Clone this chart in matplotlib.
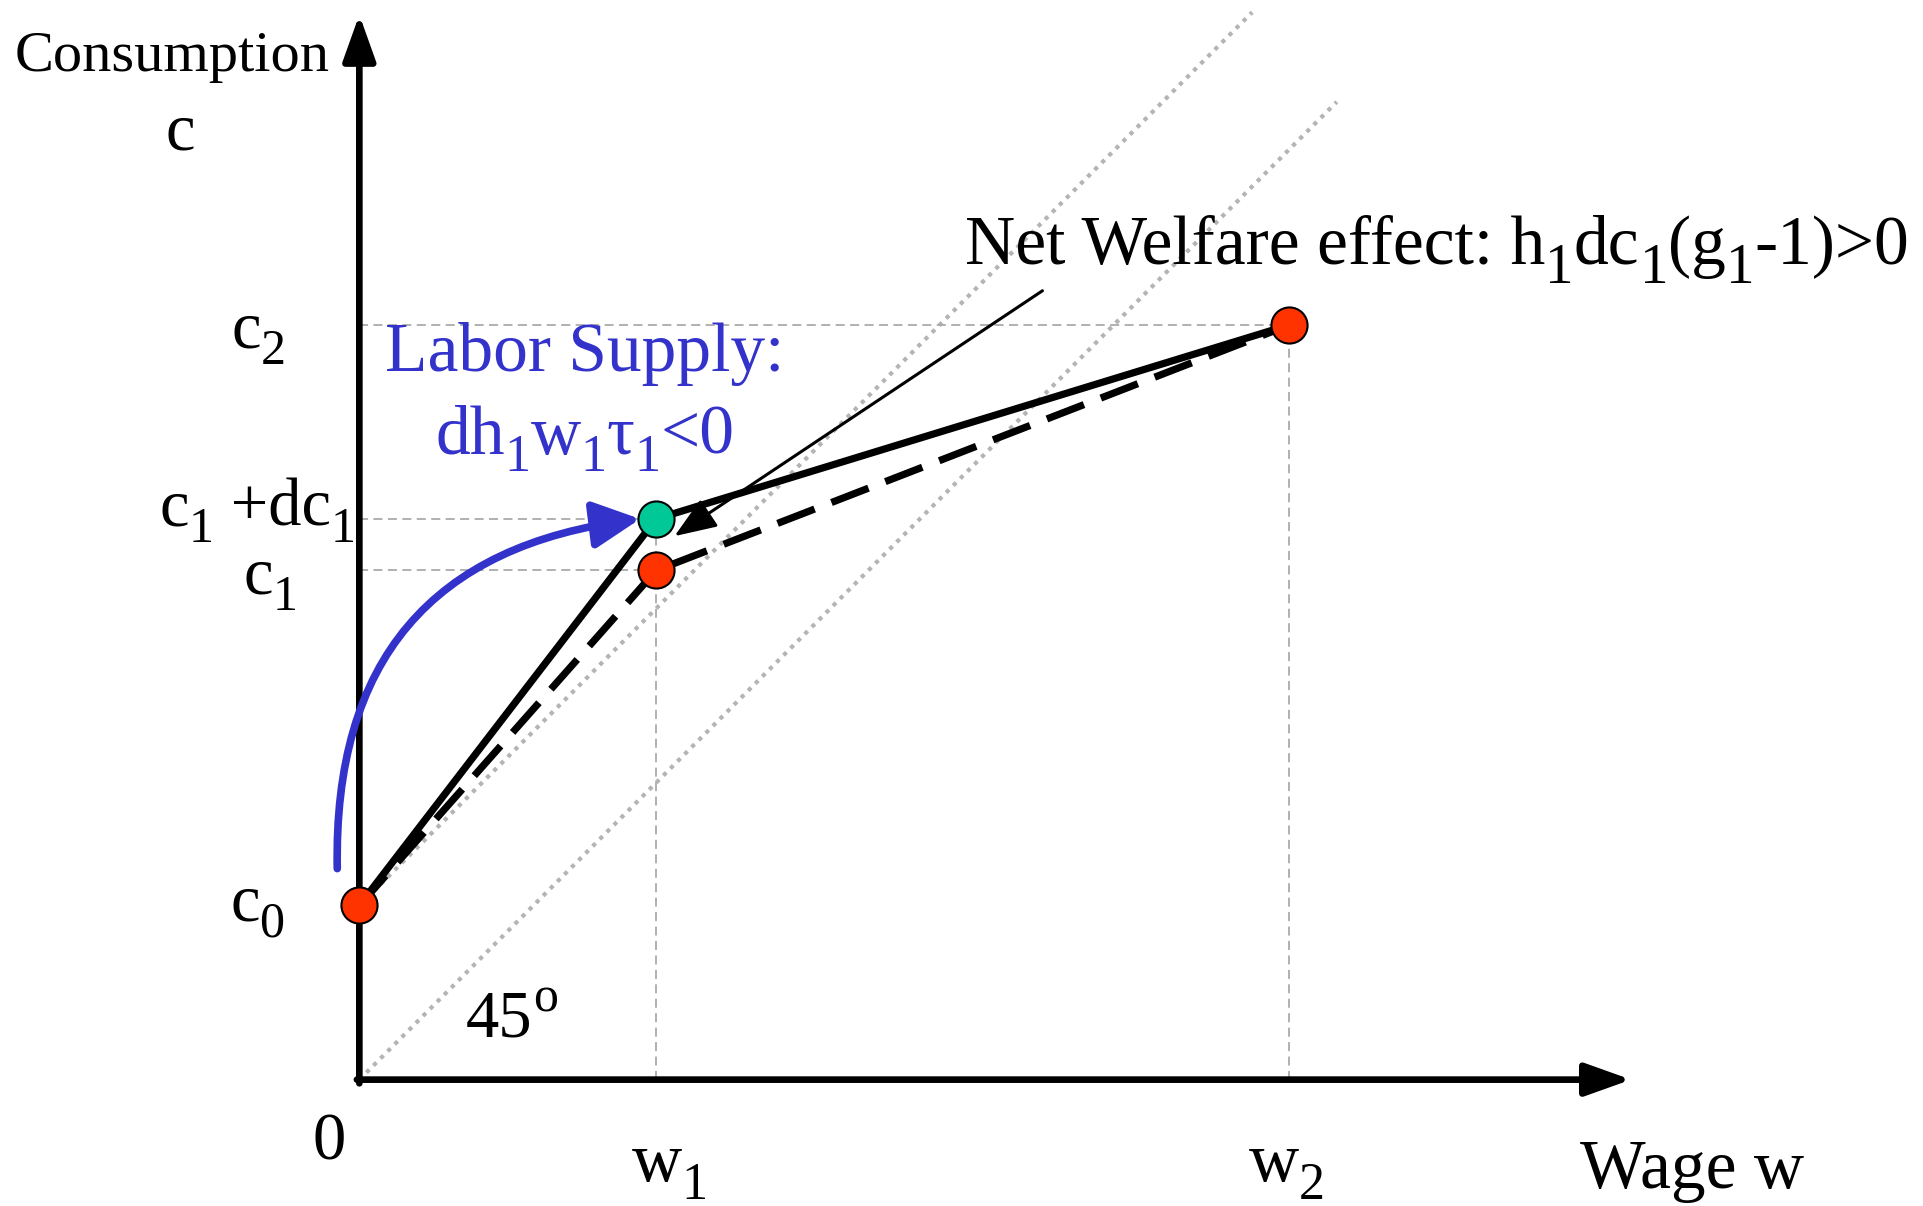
import numpy as np
import matplotlib
matplotlib.use("Agg")
import matplotlib.pyplot as plt
import matplotlib.transforms as mtransforms
from matplotlib.patches import FancyArrowPatch

plt.rcParams['font.family'] = ['Liberation Serif', 'DejaVu Serif']

# diagram values (wage on x, consumption on y)
w_pts = [0, 242, 758]          # 0, w1, w2
c_old = [142, 415, 615]        # c0, c1, c2 (dashed schedule)
c_new = [142, 457, 615]        # c0, c1+dc1, c2 (solid schedule)

fig = plt.figure(figsize=(19.23, 12.06), dpi=100)
ax = fig.add_axes([0, 0, 1, 1])
ax.set_xlim(-293, 1275)
ax.set_ylim(-103, 880)
ax.axis('off')
renderer = fig.canvas.get_renderer()


def rich(x, y, parts, size, ha='left', color='black', sub_scale=0.75, sub_drop=0.25):
    # parts: list of (string, kind) with kind 0 normal, 1 subscript, 2 superscript
    items = []
    for s, kind in parts:
        fsz = size if kind == 0 else size * sub_scale
        t = ax.text(x, y, s, fontsize=fsz, color=color, va='baseline', ha='left')
        items.append((t, t.get_window_extent(renderer).width, kind))
    total = sum(w for _, w, _ in items)
    off = {'left': 0, 'center': -total / 2, 'right': -total}[ha]
    pt = fig.dpi / 72
    for t, w, kind in items:
        dy = 0
        if kind == 1:
            dy = -sub_drop * size * pt
        elif kind == 2:
            dy = 0.38 * size * pt
        t.set_transform(mtransforms.offset_copy(ax.transData, fig=fig, x=off, y=dy, units='dots'))
        off += w


grey = '#aaaaaa'

# 45 degree dotted lines
ww = np.array([0, 728])
ax.plot(ww, c_old[0] + ww, ls=(0, (1, 1.4)), color='#b4b4b4', lw=3, zorder=1)
ww = np.array([0, 797])
ax.plot(ww, ww, ls=(0, (1, 1.4)), color='#b4b4b4', lw=3, zorder=1)

# guide lines
dash = (0, (5, 3))
ax.plot([0, w_pts[2]], [c_old[2], c_old[2]], color=grey, lw=1.3, ls=dash, zorder=1)
ax.plot([0, w_pts[1]], [c_new[1], c_new[1]], color=grey, lw=1.3, ls=dash, zorder=1)
ax.plot([0, w_pts[1]], [c_old[1], c_old[1]], color=grey, lw=1.3, ls=dash, zorder=1)
ax.plot([w_pts[1], w_pts[1]], [0, c_new[1]], color=grey, lw=1.3, ls=dash, zorder=1)
ax.plot([w_pts[2], w_pts[2]], [0, c_old[2]], color=grey, lw=1.3, ls=dash, zorder=1)

# axes with arrows
ax.annotate('', xy=(0, 868), xytext=(0, -3),
            arrowprops=dict(arrowstyle='-|>,head_length=1.4,head_width=0.5', lw=4.8, color='black',
                            shrinkA=0, shrinkB=0, mutation_scale=20))
ax.annotate('', xy=(1037, 0), xytext=(-2, 0),
            arrowprops=dict(arrowstyle='-|>,head_length=1.4,head_width=0.5', lw=4.8, color='black',
                            shrinkA=0, shrinkB=0, mutation_scale=20))

# budget schedules
ax.plot(w_pts, c_new, color='black', lw=5.2, solid_capstyle='butt', zorder=3)
ax.plot(w_pts, c_old, color='black', lw=5.2, ls=(0, (5.5, 2.5)), zorder=3)

# points
ax.plot(w_pts, c_old, 'o', ls='none', ms=26,
        mfc='#ff3300', mec='black', mew=1.5, zorder=5)
ax.plot([w_pts[1]], [c_new[1]], 'o', ms=26, mfc='#00c896', mec='black', mew=1.5, zorder=5)

# thin welfare arrow
ax.annotate('', xy=(257, 443), xytext=(557, 643),
            arrowprops=dict(arrowstyle='-|>,head_length=1.3,head_width=0.5', lw=2.2, color='black',
                            shrinkA=0, shrinkB=0, mutation_scale=20), zorder=4)

# blue labor supply arrow
arr = FancyArrowPatch(posA=(-18, 172), posB=(229, 457), connectionstyle='arc3,rad=-0.45',
                      arrowstyle='-|>,head_length=1.3,head_width=0.65', mutation_scale=22,
                      lw=5.5, color='#3333cc', shrinkA=0, shrinkB=0, zorder=4)
ax.add_patch(arr)

# texts
rich(-281, 822, [('Consumption', 0)], 42)
rich(-146, 758, [('c', 0)], 48, ha='center')
rich(-60, 597, [('c', 0), ('2', 1)], 48, ha='right')
rich(-3, 452, [('c', 0), ('1', 1), (' +dc', 0), ('1', 1)], 48, ha='right')
rich(-50, 396, [('c', 0), ('1', 1)], 48, ha='right')
rich(-61, 130, [('c', 0), ('0', 1)], 48, ha='right')
rich(-25, -65, [('0', 0)], 48, ha='center')
rich(222, -83, [('w', 0), ('1', 1)], 50)
rich(725, -83, [('w', 0), ('2', 1)], 50)
rich(995, -88, [('Wage w', 0)], 50)
rich(87, 35, [('45', 0), ('o', 2)], 48)
rich(184, 578, [('Labor Supply:', 0)], 50, ha='center', color='#3333cc')
rich(184, 510, [('dh', 0), ('1', 1), ('w', 0), ('1', 1), ('τ', 0), ('1', 1), ('<0', 0)], 50,
     ha='center', color='#3333cc')
rich(494, 665, [('Net Welfare effect: h', 0), ('1', 1), ('dc', 0), ('1', 1), ('(g', 0), ('1', 1),
                ('-1)>0', 0)], 50, sub_scale=0.82, sub_drop=0.28)

fig.savefig('out.png', dpi=100)
